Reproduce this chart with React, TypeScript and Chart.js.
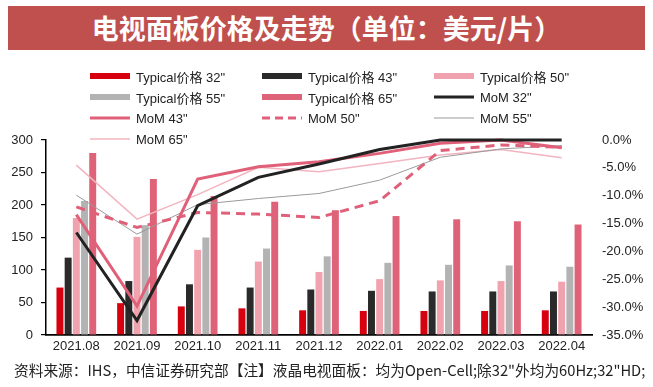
import React, { useEffect, useRef } from "react";
import { Chart, registerables } from "chart.js";

Chart.register(...registerables);

const categories = ["2021.08", "2021.09", "2021.10", "2021.11", "2021.12", "2022.01", "2022.02", "2022.03", "2022.04"];

// Typical prices (USD/panel)
const price32 = [73, 49, 44, 41, 38, 37, 37, 37, 38];
const price43 = [119, 83, 78, 73, 70, 68, 67, 67, 67];
const price50 = [180, 151, 131, 113, 97, 86, 84, 83, 82];
const price55 = [206, 169, 150, 133, 121, 111, 108, 107, 105];
const price65 = [280, 240, 214, 205, 192, 183, 178, 175, 170];

// MoM change (%)
const mom32 = [-16.6, -32.4, -11.8, -6.7, -4.3, -1.7, 0, 0, 0];
const mom43 = [-13.4, -29.8, -7.0, -4.8, -3.9, -2.4, -0.6, 0, -1.4];
const mom50 = [-12.0, -15.7, -13.0, -13.3, -13.9, -10.9, -1.9, -0.9, -1.3];
const mom55 = [-9.9, -16.9, -11.6, -10.5, -9.6, -7.2, -3.1, -1.6, -1.0];
const mom65 = [-4.5, -14.2, -9.8, -4.9, -5.7, -4.2, -2.7, -1.7, -3.2];

const leftTicks = [0, 50, 100, 150, 200, 250, 300];

const FONT = "'Liberation Sans', Arial, 'Noto Sans CJK SC', sans-serif";

const C32 = "#d6000f";
const C43 = "#2a2a2a";
const C50 = "#f0a3ae";
const C55 = "#b3b3b3";
const C65 = "#df6378";
const CM32 = "#222222";
const CM43 = "#df6078";
const CM50 = "#df6078";
const CM55 = "#9a9a9a";
const CM65 = "#f2b5bf";

type LegendItem = { label: string; kind: "bar" | "line" | "dash"; color: string; w: number };

const legendItems: LegendItem[] = [
  { label: "Typical价格 32\"", kind: "bar", color: C32, w: 6 },
  { label: "Typical价格 43\"", kind: "bar", color: C43, w: 6 },
  { label: "Typical价格 50\"", kind: "bar", color: C50, w: 6 },
  { label: "Typical价格 55\"", kind: "bar", color: C55, w: 6 },
  { label: "Typical价格 65\"", kind: "bar", color: C65, w: 6 },
  { label: "MoM 32\"", kind: "line", color: CM32, w: 3 },
  { label: "MoM 43\"", kind: "line", color: CM43, w: 3 },
  { label: "MoM 50\"", kind: "dash", color: CM50, w: 3 },
  { label: "MoM 55\"", kind: "line", color: CM55, w: 1 },
  { label: "MoM 65\"", kind: "line", color: CM65, w: 1.5 },
];

const colX = [90, 262, 434];
const rowY = [76, 97, 118, 139];

export default function App() {
  const ref = useRef<HTMLCanvasElement | null>(null);

  useEffect(() => {
    if (!ref.current) return;
    const barCommon = { type: "bar" as const, yAxisID: "y", order: 2, categoryPercentage: 0.675, barPercentage: 0.85 };
    const lineCommon = { type: "line" as const, yAxisID: "y1", pointRadius: 0, tension: 0, clip: false as any, fill: false };
    const chart = new Chart(ref.current, {
      type: "bar",
      data: {
        labels: categories,
        datasets: [
          { ...lineCommon, label: "MoM 32\"", data: mom32, borderColor: CM32, borderWidth: 3, order: 0 },
          { ...lineCommon, label: "MoM 43\"", data: mom43, borderColor: CM43, borderWidth: 3, order: 1 },
          { ...lineCommon, label: "MoM 50\"", data: mom50, borderColor: CM50, borderWidth: 3, borderDash: [9, 6], order: 1 },
          { ...lineCommon, label: "MoM 55\"", data: mom55, borderColor: CM55, borderWidth: 1, order: 1 },
          { ...lineCommon, label: "MoM 65\"", data: mom65, borderColor: CM65, borderWidth: 1.5, order: 1 },
          { ...barCommon, label: "Typical价格 32\"", data: price32, backgroundColor: C32 },
          { ...barCommon, label: "Typical价格 43\"", data: price43, backgroundColor: C43 },
          { ...barCommon, label: "Typical价格 50\"", data: price50, backgroundColor: C50 },
          { ...barCommon, label: "Typical价格 55\"", data: price55, backgroundColor: C55 },
          { ...barCommon, label: "Typical价格 65\"", data: price65, backgroundColor: C65 },
        ] as any,
      },
      options: {
        animation: false,
        responsive: false,
        devicePixelRatio: 1,
        layout: { padding: { top: 140, left: 0, right: 0, bottom: 0 } },
        plugins: { legend: { display: false }, tooltip: { enabled: false } },
        scales: {
          x: {
            grid: { display: false, drawTicks: false },
            border: { display: true, color: "#000", width: 1.8 },
            ticks: { font: { family: FONT, size: 13 }, color: "#222", padding: 4, maxRotation: 0, autoSkip: false },
            afterFit: (s: any) => { s.height = 52; },
          },
          y: {
            position: "left",
            min: leftTicks[0],
            max: leftTicks[leftTicks.length - 1],
            afterBuildTicks: (s: any) => { s.ticks = leftTicks.map((v) => ({ value: v })); },
            grid: { drawOnChartArea: false, drawTicks: true, tickLength: 5, color: "#000", lineWidth: 1.2 },
            border: { display: true, color: "#000", width: 1.5 },
            ticks: { font: { family: FONT, size: 13 }, color: "#222", padding: 8 },
            afterFit: (s: any) => { s.width = 46; },
          },
          y1: {
            position: "right",
            min: -35,
            max: 0,
            ticks: {
              stepSize: 5,
              font: { family: FONT, size: 13 },
              color: "#222",
              padding: 10,
              callback: (v: any) => Number(v).toFixed(1) + "%",
            },
            grid: { display: false, drawTicks: false },
            border: { display: false },
            afterFit: (s: any) => { s.width = 61; },
          },
        },
      } as any,
    });
    return () => chart.destroy();
  }, []);

  return (
    <div style={{ position: "absolute", left: 0, top: 0, width: 653, height: 387, background: "#fff", overflow: "hidden", fontFamily: FONT }}>
      <canvas ref={ref} width={653} height={387} style={{ position: "absolute", left: 0, top: 0, width: 653, height: 387 }} />
      <div
        style={{
          position: "absolute", left: 8, top: 6, width: 637, height: 44, background: "#c0504d",
          color: "#fff", fontWeight: "bold", fontSize: 27, lineHeight: "44px", textAlign: "center",
          fontFamily: "'Noto Sans CJK SC', sans-serif",
        }}
      >
        电视面板价格及走势（单位：美元/片）
      </div>
      {legendItems.map((it, i) => {
        const col = i % 3;
        const row = Math.floor(i / 3);
        const x = colX[col];
        const y = rowY[row];
        return (
          <div key={i} style={{ position: "absolute", left: x, top: y - 9, height: 18, display: "flex", alignItems: "center", whiteSpace: "nowrap" }}>
            <svg width={40} height={10} style={{ display: "block" }}>
              {it.kind === "bar" ? (
                <rect x={0} y={2} width={40} height={it.w} fill={it.color} />
              ) : (
                <line x1={0} y1={5} x2={40} y2={5} stroke={it.color} strokeWidth={it.w} strokeDasharray={it.kind === "dash" ? "8 5" : undefined} />
              )}
            </svg>
            <span style={{ marginLeft: 6, fontSize: 13, color: "#222", fontFamily: FONT }}>{it.label}</span>
          </div>
        );
      })}
      <div style={{ position: "absolute", left: 14, top: 360, fontSize: 14.7, color: "#222", whiteSpace: "nowrap", fontFamily: "'Noto Sans CJK SC', sans-serif", lineHeight: "20px" }}>
        资料来源：IHS，中信证券研究部【注】液晶电视面板：均为Open-Cell;除32"外均为60Hz;32"HD;
      </div>
    </div>
  );
}
